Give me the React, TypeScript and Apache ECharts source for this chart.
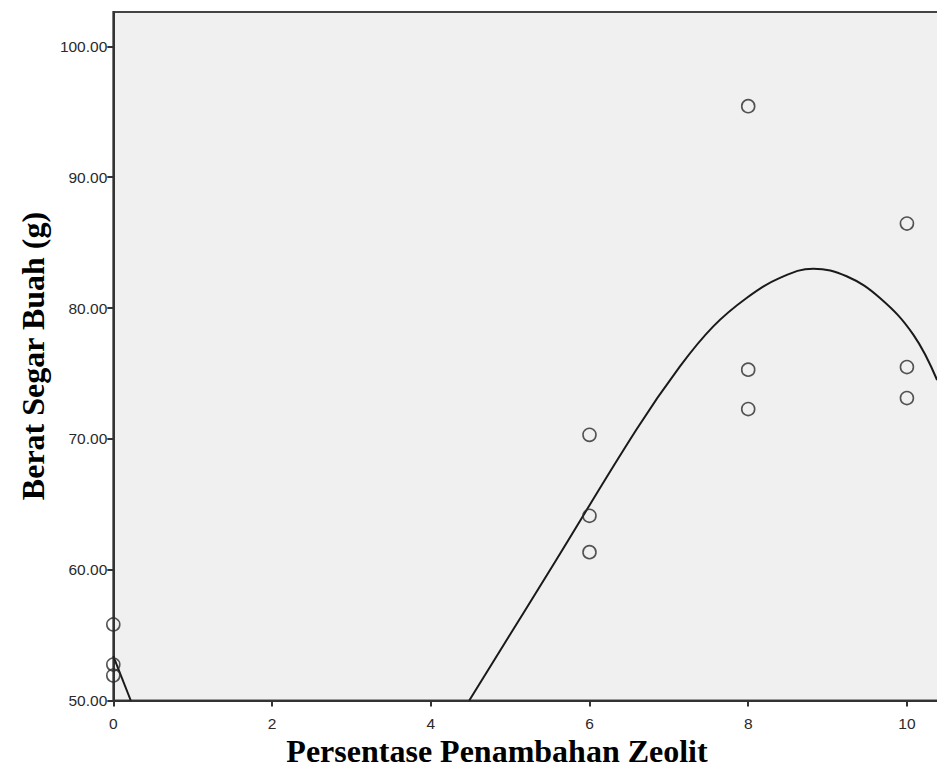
import React, { useEffect, useRef } from "react";
import * as echarts from "echarts";

const yTicks = [50, 60, 70, 80, 90, 100];
const xTicks = [0, 2, 4, 6, 8, 10];
const zeolit = [0, 0, 0, 6, 6, 6, 8, 8, 8, 10, 10, 10];
const berat = [55.81, 52.75, 51.91, 70.31, 64.12, 61.34, 95.43, 75.29, 72.28, 86.46, 75.49, 73.12];
const fitLeftX = [0, 0.22];
const fitLeftY = [53.4, 50.0];
const fitRightX = [4.485, 5.54, 6.59, 7.14, 7.56, 7.98, 8.4, 8.82, 9.24, 9.66, 10.08, 10.38];
const fitRightY = [50.0, 60.34, 70.7, 75.54, 78.6, 80.77, 82.3, 83.01, 82.43, 80.77, 77.97, 74.5];
const xTitle = "Persentase Penambahan Zeolit";
const yTitle = "Berat Segar Buah (g)";

export default function App() {
  const ref = useRef<HTMLDivElement>(null);
  useEffect(() => {
    if (!ref.current) return;
    const chart = echarts.init(ref.current, undefined, { renderer: "svg" });
    const pts = zeolit.map((x, i) => [x, berat[i]]);
    const fit1 = fitLeftX.map((x, i) => [x, fitLeftY[i]]);
    const fit2 = fitRightX.map((x, i) => [x, fitRightY[i]]);
    const labelStyle = {
      fontFamily: "'Liberation Sans', Arial, sans-serif",
      fontSize: 15.5,
      color: "#2a2a2a",
    };
    chart.setOption({
      animation: false,
      backgroundColor: "#ffffff",
      grid: {
        left: 113.3,
        top: 12,
        width: 873,
        height: 688.5,
        show: true,
        backgroundColor: "#f0f0f0",
        borderColor: "#444",
        borderWidth: 2,
      },
      xAxis: {
        type: "value",
        min: 0,
        max: 11,
        interval: 2,
        splitLine: { show: false },
        axisLine: { show: true, onZero: false, lineStyle: { color: "#333", width: 2 } },
        axisTick: { show: true, length: 6, lineStyle: { color: "#333", width: 2 }, customValues: xTicks },
        axisLabel: { ...labelStyle, margin: 15, customValues: xTicks, formatter: (v: number) => String(v) },
      },
      yAxis: {
        type: "value",
        min: 50,
        max: 102.63,
        interval: 10,
        splitLine: { show: false },
        axisLine: { show: true, onZero: false, lineStyle: { color: "#333", width: 2 } },
        axisTick: { show: true, length: 6, lineStyle: { color: "#333", width: 2 }, customValues: yTicks },
        axisLabel: {
          ...labelStyle,
          margin: 6,
          customValues: yTicks,
          formatter: (v: number) => v.toFixed(2),
        },
      },
      series: [
        {
          type: "line",
          data: fit1,
          smooth: 0.4,
          showSymbol: false,
          symbol: "none",
          clip: true,
          lineStyle: { color: "#1a1a1a", width: 2 },
          z: 3,
        },
        {
          type: "line",
          data: fit2,
          smooth: 0.4,
          showSymbol: false,
          symbol: "none",
          clip: true,
          lineStyle: { color: "#1a1a1a", width: 2 },
          z: 3,
        },
        {
          type: "scatter",
          data: pts,
          symbol: "circle",
          symbolSize: 13,
          clip: true,
          itemStyle: { color: "rgba(0,0,0,0)", borderColor: "#2a2a2a", borderWidth: 1.6 },
          z: 4,
        },
      ],
      graphic: [
        {
          type: "text",
          x: 497,
          y: 751,
          style: {
            text: xTitle,
            x: 0,
            y: 0,
            align: "center",
            verticalAlign: "middle",
            textAlign: "center",
            textVerticalAlign: "middle",
            font: "bold 32px 'Liberation Serif'",
            fill: "#000",
          },
        },
        {
          type: "text",
          x: 33,
          y: 356,
          rotation: Math.PI / 2,
          style: {
            text: yTitle,
            x: 0,
            y: 0,
            align: "center",
            verticalAlign: "middle",
            textAlign: "center",
            textVerticalAlign: "middle",
            font: "bold 32px 'Liberation Serif'",
            fill: "#000",
          },
        },
      ],
    });
    return () => chart.dispose();
  }, []);
  return (
    <div
      ref={ref}
      style={{ position: "fixed", left: 0, top: 0, width: 1000, height: 783 }}
    />
  );
}
